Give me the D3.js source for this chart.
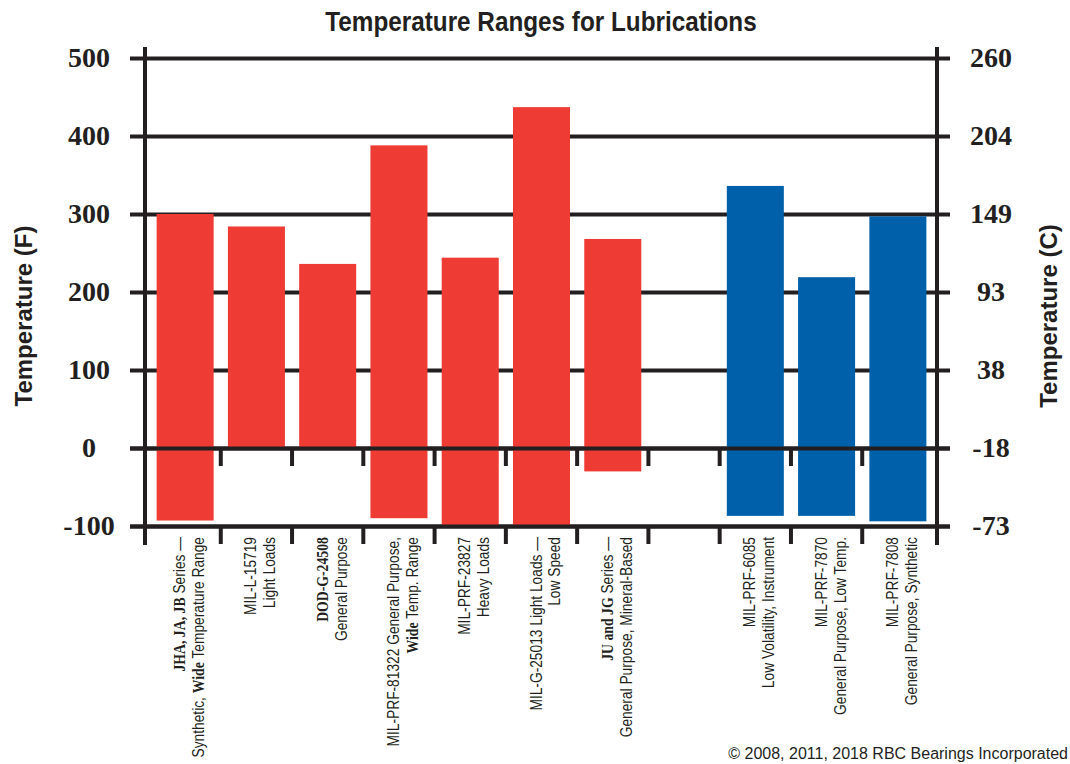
<!DOCTYPE html>
<html lang="en">
<head>
<meta charset="utf-8">
<title>Temperature Ranges for Lubrications</title>
<script src="https://cdn.jsdelivr.net/npm/d3@7"></script>
<style>
  body { margin: 0; background: #fff; }
  svg { display: block; }
  .narrow { font-family: "Liberation Sans Narrow", "Liberation Sans", Arial, sans-serif; }
  .serifb { font-family: "Liberation Serif", serif; font-weight: bold; }
</style>
</head>
<body>
<svg id="chart" width="1070" height="764"></svg>
<script>
// categories (the blank one is the gap between the two groups)
var categories = ["JHA", "L15719", "G24508", "P81322", "P23827", "G25013", "JUJG", "gap", "P6085", "P7870", "P7808"];
var labelLine1 = ["JHA, JA, JB Series \u2014", "MIL-L-15719", "DOD-G-24508", "MIL-PRF-81322 General Purpose,", "MIL-PRF-23827", "MIL-G-25013 Light Loads \u2014", "JU and JG Series \u2014", "", "MIL-PRF-6085", "MIL-PRF-7870", "MIL-PRF-7808"];
var labelLine2 = ["Synthetic, Wide Temperature Range", "Light Loads", "General Purpose", "Wide Temp. Range", "Heavy Loads", "Low Speed", "General Purpose, Mineral-Based", "", "Low Volatility, Instrument", "General Purpose, Low Temp.", "General Purpose, Synthetic"];
// temperature range of each product, deg F
var minF = [-93, 0, 0, -90, -100, -100, -30, null, -87, -87, -94];
var maxF = [300, 284, 236, 388, 244, 437, 268, null, 336, 219, 297];
var group = ["red", "red", "red", "red", "red", "red", "red", null, "blue", "blue", "blue"];
// axis ticks
var fTicks = [-100, 0, 100, 200, 300, 400, 500];
var cTickLabels = ["-73", "-18", "38", "93", "149", "204", "260"];
// bits of the labels set in bold serif like the original
var serifBits = ["JHA, JA, JB", "DOD-G-24508", "JU and JG", "Wide"];

var ink = "#231f20";
var svg = d3.select("#chart");

var x = d3.scaleBand().domain(categories).range([149.5, 933.5]).paddingInner(0.2).paddingOuter(0.1);
var y = d3.scaleLinear().domain([-100, 500]).range([526, 58]);
var color = d3.scaleOrdinal().domain(["red", "blue"]).range(["#ee3b34", "#0060a9"]);

// title (squeezed to look condensed)
svg.append("text").attr("class", "narrow")
  .attr("transform", "translate(541,31) scale(0.9,1)").attr("text-anchor", "middle")
  .style("font-size", "27px").style("font-weight", "bold").style("fill", ink)
  .text("Temperature Ranges for Lubrications");

// horizontal grid lines (ticks poke out on both sides)
function gridAxis(vals) {
  return d3.axisLeft(y).tickValues(vals).tickSize(820).tickFormat("");
}
var grid = svg.append("g").attr("transform", "translate(950,0)").call(gridAxis(fTicks));
grid.select(".domain").remove();
grid.selectAll("line").attr("stroke", ink).attr("stroke-width", 4);

// bars
var rows = categories.map(function(c, i) {
  return { cat: c, lo: minF[i], hi: maxF[i], grp: group[i] };
}).filter(function(d) { return d.hi !== null; });

svg.append("g").selectAll("rect")
  .data(rows)
  .enter().append("rect")
    .attr("x", function(d) { return x(d.cat); })
    .attr("y", function(d) { return y(d.hi); })
    .attr("width", x.bandwidth())
    .attr("height", function(d) { return y(d.lo) - y(d.hi); })
    .attr("fill", function(d) { return color(d.grp); });

// zero and bottom lines sit over the bars
var over = svg.append("g").attr("transform", "translate(950,0)").call(gridAxis([-100, 0]));
over.select(".domain").remove();
over.selectAll("line").attr("stroke", ink).attr("stroke-width", 4);

// vertical axis lines
[145, 937].forEach(function(px) {
  svg.append("line").attr("x1", px).attr("x2", px).attr("y1", 47).attr("y2", 545)
    .attr("stroke", ink).attr("stroke-width", 4);
});

// category separators below 0 and below -100
var half = x.step() / 2;
[0, -100].forEach(function(v) {
  var g = svg.append("g")
    .attr("transform", "translate(" + (-half) + "," + y(v) + ")")
    .call(d3.axisBottom(x).tickValues(categories.slice(1)).tickSize(18).tickFormat(""));
  g.select(".domain").remove();
  g.selectAll("line").attr("stroke", ink).attr("stroke-width", 4);
});

// tick labels, F on the left, C on the right
var left = svg.append("g").attr("transform", "translate(89,0)")
  .call(d3.axisLeft(y).tickValues(fTicks).tickSize(0).tickPadding(0).tickFormat(String));
left.select(".domain").remove();
left.selectAll("text").attr("class", "serifb").attr("text-anchor", "middle").attr("x", 0)
  .style("font-size", "28px").style("fill", ink);

var right = svg.append("g").attr("transform", "translate(991,0)")
  .call(d3.axisRight(y).tickValues(fTicks).tickSize(0).tickPadding(0)
    .tickFormat(function(d, i) { return cTickLabels[i]; }));
right.select(".domain").remove();
right.selectAll("text").attr("class", "serifb").attr("text-anchor", "middle").attr("x", 0)
  .style("font-size", "28px").style("fill", ink);

// axis titles
svg.append("text").attr("transform", "translate(32,316) rotate(-90)")
  .attr("text-anchor", "middle")
  .style("font-family", "Liberation Sans, Arial, sans-serif").style("font-size", "24px")
  .style("font-weight", "bold").style("fill", ink)
  .text("Temperature (F)");
svg.append("text").attr("transform", "translate(1057,316) rotate(-90)")
  .attr("text-anchor", "middle")
  .style("font-family", "Liberation Sans, Arial, sans-serif").style("font-size", "24px")
  .style("font-weight", "bold").style("fill", ink)
  .text("Temperature (C)");

// category labels, rotated, two lines each
function addParts(textSel, str) {
  var re = new RegExp("(" + serifBits.map(function(s) { return s.replace(/[.*+?^${}()|[\]\\]/g, "\\$&"); }).join("|") + ")");
  str.split(re).forEach(function(part) {
    if (!part) return;
    var t = textSel.append("tspan").text(part);
    if (serifBits.indexOf(part) >= 0) t.attr("class", "serifb");
  });
}
categories.forEach(function(c, i) {
  if (!labelLine1[i]) return;
  var cx = x(c) + x.bandwidth() / 2;
  var g = svg.append("g").attr("transform", "translate(" + cx + ",537) rotate(-90) scale(0.81,1)");
  [labelLine1[i], labelLine2[i]].forEach(function(line, k) {
    var t = g.append("text").attr("class", "narrow")
      .attr("x", 0).attr("y", k * 19).attr("text-anchor", "end")
      .style("font-size", "17px").style("fill", ink);
    addParts(t, line);
  });
});

// credit line at the bottom right
svg.append("text").attr("class", "narrow")
  .attr("x", 1068).attr("y", 759).attr("text-anchor", "end")
  .style("font-size", "16px").style("fill", ink)
  .text("\u00a9 2008, 2011, 2018 RBC Bearings Incorporated");
</script>
</body>
</html>
